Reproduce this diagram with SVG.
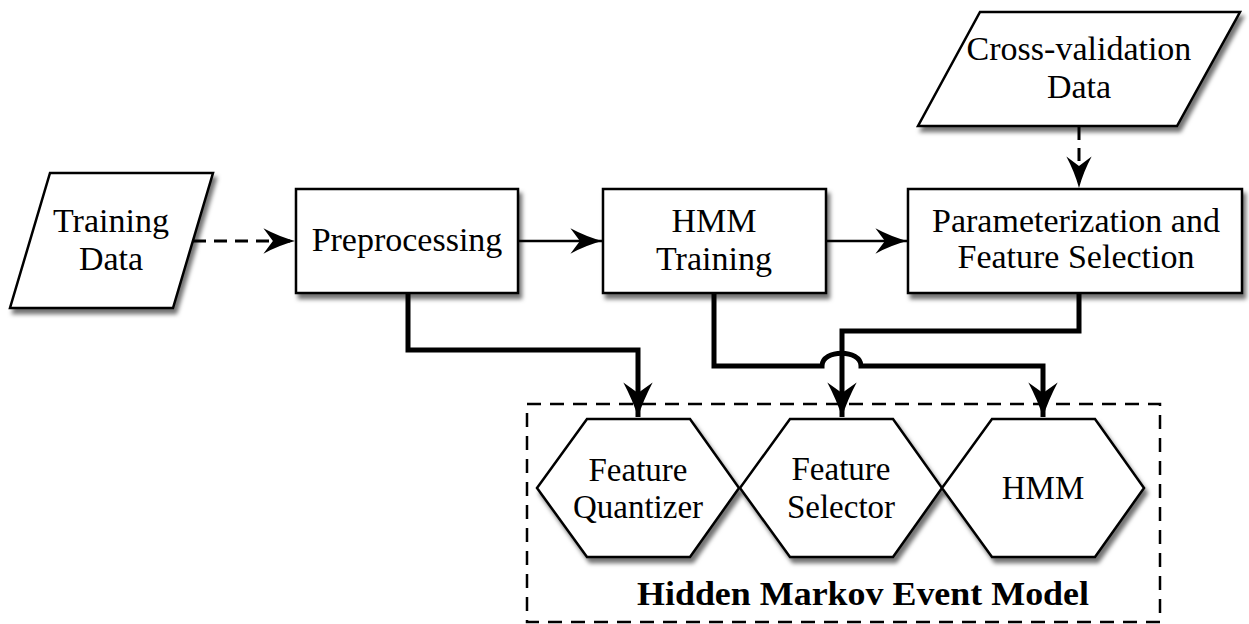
<svg xmlns="http://www.w3.org/2000/svg" width="1249" height="624" viewBox="0 0 1249 624">
  <defs>
    <filter id="shadow" x="-10%" y="-10%" width="125%" height="130%">
      <feDropShadow dx="3" dy="5" stdDeviation="2.2" flood-color="#000" flood-opacity="0.55"/>
    </filter>
    <marker id="arrow" markerUnits="userSpaceOnUse" markerWidth="40" markerHeight="40" viewBox="-34 -16 38 32" refX="0" refY="0" orient="auto">
      <path d="M0,0 Q-15,-4 -30,-12 L-21,0 L-30,12 Q-15,4 0,0 Z" fill="#000"/>
    </marker>
    <marker id="arrow-bold" markerUnits="userSpaceOnUse" markerWidth="44" markerHeight="40" viewBox="-38 -18 42 36" refX="0" refY="0" orient="auto">
      <path d="M0,0 Q-16,-5 -33,-14 L-23,0 L-33,14 Q-16,5 0,0 Z" fill="#000"/>
    </marker>
  </defs>
  <style>
    .node { fill: #fff; stroke: #000; stroke-width: 2.5; filter: url(#shadow); }
    .label { font-size: 34px; fill: #000; text-anchor: middle; }
    .hexlabel { font-size: 33px; fill: #000; text-anchor: middle; }
    .title { font-size: 34px; font-weight: bold; fill: #000; text-anchor: middle; }
    .thin { fill: none; stroke: #000; stroke-width: 2.5; marker-end: url(#arrow); }
    .thick { fill: none; stroke: #000; stroke-width: 5; marker-end: url(#arrow-bold); }
    .dashed { fill: none; stroke: #000; stroke-width: 3; stroke-dasharray: 13 8; marker-end: url(#arrow); }
    .frame { fill: none; stroke: #000; stroke-width: 2.5; stroke-dasharray: 14 9; }
  </style>

  <rect width="1249" height="624" fill="#fff"/>

  <!-- model container -->
  <g id="hmem-frame">
    <rect class="frame" x="527" y="404" width="633" height="218"/>
    <text class="title" font-family="Liberation Serif" x="863" y="605" textLength="452" lengthAdjust="spacingAndGlyphs">Hidden Markov Event Model</text>
  </g>

  <g id="training-data">
    <polygon class="node" points="50,173 213,173 173,308 10,308"/>
    <text class="label" font-family="Liberation Serif" x="111" y="232">Training</text>
    <text class="label" font-family="Liberation Serif" x="111" y="270">Data</text>
  </g>

  <g id="preprocessing">
    <rect class="node" x="296" y="189" width="222" height="104"/>
    <text class="label" font-family="Liberation Serif" x="407" y="251">Preprocessing</text>
  </g>

  <g id="hmm-training">
    <rect class="node" x="603" y="189" width="223" height="104"/>
    <text class="label" font-family="Liberation Serif" x="714" y="232">HMM</text>
    <text class="label" font-family="Liberation Serif" x="714" y="270">Training</text>
  </g>

  <g id="parameterization">
    <rect class="node" x="908" y="189" width="334" height="104"/>
    <text class="label" font-family="Liberation Serif" x="1076" y="232">Parameterization and</text>
    <text class="label" font-family="Liberation Serif" x="1076" y="268">Feature Selection</text>
  </g>

  <g id="cross-validation-data">
    <polygon class="node" points="980,12 1240,12 1177,126 918,126"/>
    <text class="label" font-family="Liberation Serif" x="1079" y="60">Cross-validation</text>
    <text class="label" font-family="Liberation Serif" x="1079" y="98">Data</text>
  </g>

  <g id="feature-quantizer">
    <polygon class="node" points="537,488 587,419 690,419 739,488 690,557 587,557"/>
    <text class="hexlabel" font-family="Liberation Serif" x="638" y="481">Feature</text>
    <text class="hexlabel" font-family="Liberation Serif" x="638" y="518">Quantizer</text>
  </g>

  <g id="feature-selector">
    <polygon class="node" points="740,488 790,419 893,419 942,488 893,557 790,557"/>
    <text class="hexlabel" font-family="Liberation Serif" x="841" y="480">Feature</text>
    <text class="hexlabel" font-family="Liberation Serif" x="841" y="518">Selector</text>
  </g>

  <g id="hmm">
    <polygon class="node" points="942,488 992,419 1095,419 1144,488 1095,557 992,557"/>
    <text class="hexlabel" font-family="Liberation Serif" x="1043" y="499">HMM</text>
  </g>

  <g id="connectors">
    <path class="dashed" d="M193,241 H295"/>
    <path class="dashed" d="M1079,127 V188"/>
    <path class="thin" d="M518,241 H602"/>
    <path class="thin" d="M826,241 H907"/>
    <path class="thick" d="M408,293 V350 H638 V417"/>
    <path class="thick" d="M1079,293 V331 H842 V417"/>
    <path class="thick" d="M714,293 V366 H822 C822,349 861,349 861,366 H1043 V417"/>
  </g>
</svg>
